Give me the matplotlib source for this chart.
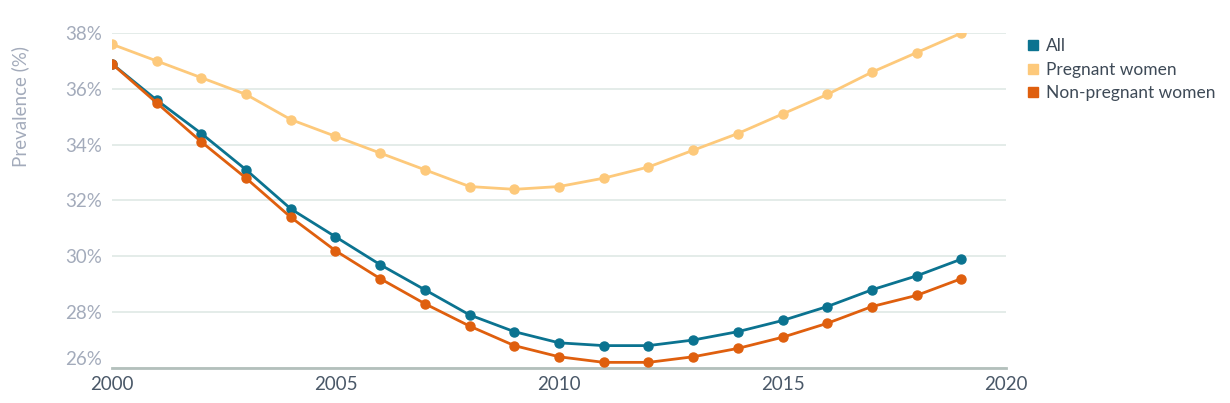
import matplotlib
matplotlib.use('Agg')
import matplotlib.pyplot as plt
from matplotlib.ticker import FuncFormatter

years = list(range(2000, 2020))
all_women = [36.9, 35.6, 34.4, 33.1, 31.7, 30.7, 29.7, 28.8, 27.9, 27.3,
             26.9, 26.8, 26.8, 27.0, 27.3, 27.7, 28.2, 28.8, 29.3, 29.9]
pregnant = [37.6, 37.0, 36.4, 35.8, 34.9, 34.3, 33.7, 33.1, 32.5, 32.4,
            32.5, 32.8, 33.2, 33.8, 34.4, 35.1, 35.8, 36.6, 37.3, 38.0]
non_pregnant = [36.9, 35.5, 34.1, 32.8, 31.4, 30.2, 29.2, 28.3, 27.5, 26.8,
                26.4, 26.2, 26.2, 26.4, 26.7, 27.1, 27.6, 28.2, 28.6, 29.2]
series_names = ['All', 'Pregnant women', 'Non-pregnant women']
yticks = [26, 28, 30, 32, 34, 36, 38]
xticks = [2000, 2005, 2010, 2015, 2020]

colors = {'All': '#0b7390', 'Pregnant women': '#fdc97b', 'Non-pregnant women': '#df5f0e'}

plt.rcParams['font.family'] = ['Lato', 'DejaVu Sans']

fig = plt.figure(figsize=(12.3, 4.03), dpi=100)
ax = fig.add_axes([0.091, 0.087, 0.727, 0.831])

# pregnant drawn first so the others sit on top
for name, vals in [('Pregnant women', pregnant), ('All', all_women), ('Non-pregnant women', non_pregnant)]:
    ax.plot(years, vals, color=colors[name], lw=2, marker='o', ms=6.5, zorder=3)

ax.set_xlim(2000, 2020)
ax.set_ylim(26, 38)
ax.set_yticks(yticks)
ax.set_xticks(xticks)
ax.yaxis.set_major_formatter(FuncFormatter(lambda v, p: '%d%%' % v))
ax.grid(axis='y', color='#dfe9e5', lw=1.2)
ax.set_axisbelow(True)
for s in ['top', 'right', 'left']:
    ax.spines[s].set_visible(False)
ax.spines['bottom'].set_color('#b3c0bc')
ax.spines['bottom'].set_linewidth(2)
ax.tick_params(axis='y', length=0, labelsize=13.5, labelcolor='#a3abbb', pad=7)
ax.tick_params(axis='x', length=0, labelsize=13.5, labelcolor='#4a5868', pad=6)
ax.set_ylabel('Prevalence (%)', fontsize=13.5, color='#a3abbb')
ax.yaxis.set_label_coords(-0.093, 0.78)
# lift the lowest y label a little so it clears the 2000 label
ax.get_yticklabels()[0].set_verticalalignment('bottom')

handles = [plt.Line2D([], [], ls='', marker='s', ms=7.5, color=colors[n]) for n in series_names]
fig.legend(handles, series_names, loc='upper left', bbox_to_anchor=(0.82, 0.945),
           frameon=False, fontsize=12.5, labelcolor='#3e4a57', handletextpad=0.25,
           labelspacing=0.45, handlelength=1.0)

fig.savefig('out.png', dpi=100)
